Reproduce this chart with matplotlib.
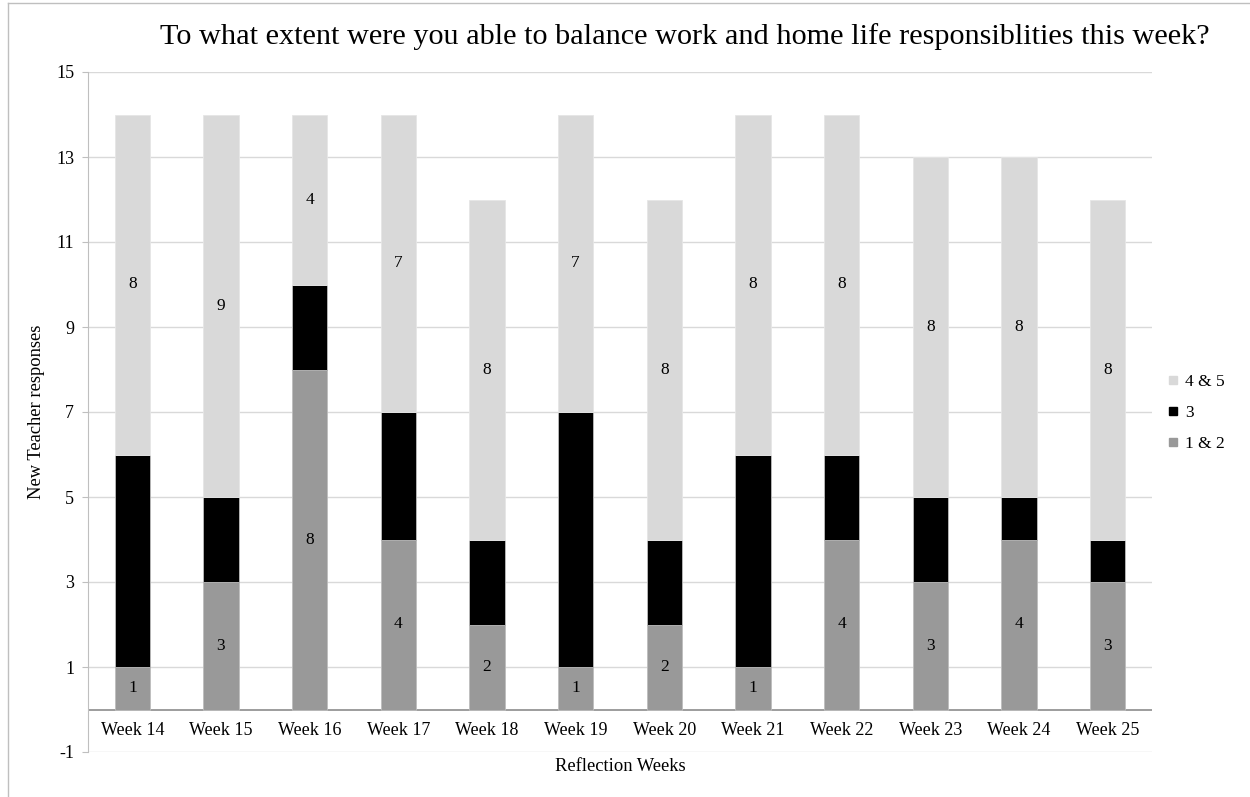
import matplotlib.pyplot as plt
import numpy as np
from matplotlib.lines import Line2D

plt.rcParams['font.family'] = ['Liberation Serif', 'DejaVu Serif']
plt.rcParams['axes.unicode_minus'] = False

weeks = ['Week 14', 'Week 15', 'Week 16', 'Week 17', 'Week 18', 'Week 19',
         'Week 20', 'Week 21', 'Week 22', 'Week 23', 'Week 24', 'Week 25']
low = [1, 3, 8, 4, 2, 1, 2, 1, 4, 3, 4, 3]      # 1 & 2
mid = [5, 2, 2, 3, 2, 6, 2, 5, 2, 2, 1, 1]      # 3
high = [8, 9, 4, 7, 8, 7, 8, 8, 8, 8, 8, 8]     # 4 & 5

C_LOW, C_MID, C_HIGH = '#999999', '#000000', '#d9d9d9'

fig = plt.figure(figsize=(12.5, 7.97), dpi=100)
ax = fig.add_axes([88 / 1250, 45 / 797, (1152 - 88) / 1250, (752 - 72) / 797])

x = np.arange(len(weeks))
low = np.array(low)
mid = np.array(mid)
high = np.array(high)
w = 0.4
ax.bar(x, low, w, color=C_LOW, edgecolor='#bdbdbd', linewidth=0.6, zorder=3)
ax.bar(x, mid, w, bottom=low, color=C_MID, edgecolor='#bdbdbd', linewidth=0.6, zorder=3)
ax.bar(x, high, w, bottom=low + mid, color=C_HIGH, edgecolor='#e6e6e6', linewidth=0.6, zorder=3)

for i in range(len(weeks)):
    ax.text(x[i], low[i] / 2, str(low[i]), ha='center', va='center', fontsize=12.5, zorder=4)
    ax.text(x[i], low[i] + mid[i] + high[i] / 2, str(high[i]), ha='center', va='center',
            fontsize=12.5, zorder=4)
    ax.text(x[i], -0.5, weeks[i], ha='center', va='center', fontsize=13)

ax.set_xlim(-0.5, len(weeks) - 0.5)
ax.set_ylim(-1, 15)
ax.set_yticks(np.arange(-1, 16, 2))
ax.set_xticks([])
ax.tick_params(axis='y', labelsize=13, length=4, color='#bfbfbf', pad=6)
ax.grid(axis='y', color='#d9d9d9', linewidth=1, zorder=0)
ax.axhline(0, color='#8c8c8c', linewidth=1.2, zorder=2)
for s in ['top', 'right', 'bottom']:
    ax.spines[s].set_visible(False)
ax.spines['left'].set_color('#bfbfbf')

ax.set_ylabel('New Teacher responses', fontsize=13.3, labelpad=8)
ax.set_xlabel('Reflection Weeks', fontsize=13.3, labelpad=4)
fig.text(685 / 1250, 1 - 37 / 797,
         'To what extent were you able to balance work and home life responsiblities this week?',
         ha='center', va='center', fontsize=21.8)

handles = [Line2D([], [], marker='s', linestyle='none', markersize=6, color=c)
           for c in (C_HIGH, C_MID, C_LOW)]
fig.legend(handles, ['4 & 5', '3', '1 & 2'], loc='center left',
           bbox_to_anchor=(1140 / 1250, 1 - 413 / 797), frameon=False,
           fontsize=12.5, handletextpad=-0.3, labelspacing=0.85)

# chart border
fig.add_artist(Line2D([8 / 1250, 8 / 1250], [0, 1 - 3 / 797], color='#bfbfbf', linewidth=1))
fig.add_artist(Line2D([8 / 1250, 1], [1 - 3 / 797, 1 - 3 / 797], color='#bfbfbf', linewidth=1))

plt.savefig('out.png', dpi=100)
